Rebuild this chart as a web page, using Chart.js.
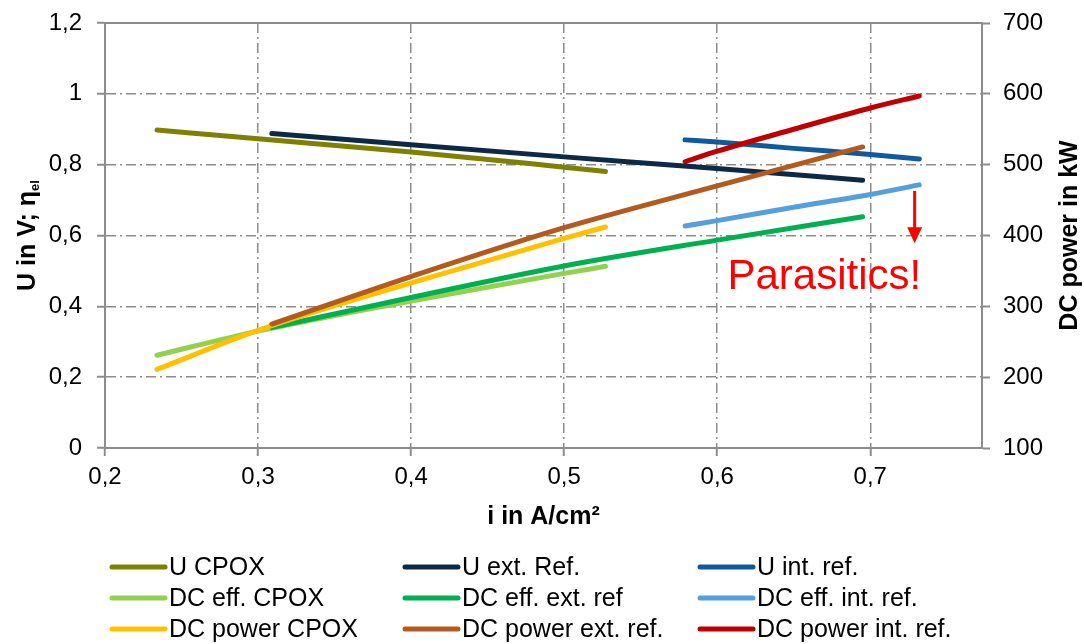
<!DOCTYPE html>
<html>
<head>
<meta charset="utf-8">
<script src="https://cdn.jsdelivr.net/npm/chart.js@4.4.1/dist/chart.umd.min.js"></script>
<style>
  html, body { margin: 0; padding: 0; background: #fff; }
</style>
</head>
<body>
<canvas id="myChart" width="1084" height="644"></canvas>
<script>
// current density (A/cm²) for each configuration
const iCpox = [0.234, 0.30, 0.40, 0.50, 0.527];
const iExt = [0.309, 0.40, 0.50, 0.60, 0.695];
const iInt = [0.579, 0.60, 0.65, 0.70, 0.732];

// cell voltage (V), left axis
const uCpox = [0.898, 0.873, 0.836, 0.793, 0.781];
const uExt = [0.888, 0.856, 0.822, 0.789, 0.756];
const uInt = [0.870, 0.864, 0.846, 0.829, 0.816];

// DC efficiency, left axis
const effCpox = [0.262, 0.330, 0.415, 0.493, 0.513];
const effExt = [0.340, 0.425, 0.514, 0.587, 0.653];
const effInt = [0.627, 0.642, 0.680, 0.716, 0.743];

// DC power (kW), right axis
const powerCpox = [211, 266, 333, 396, 412];
const powerExt = [275, 342, 411, 470, 525];
const powerInt = [504, 519, 550, 580, 597];

const xTicks = [0.2, 0.3, 0.4, 0.5, 0.6, 0.7];
const yTicks = [0, 0.2, 0.4, 0.6, 0.8, 1, 1.2];
const y1Ticks = [100, 200, 300, 400, 500, 600, 700];

// annotation
const arrowI = 0.729;
const arrowFrom = 0.726;
const arrowTo = 0.578;
const noteText = "Parasitics!";
const noteI = 0.670;
const noteY = 0.45;

const FONT = '"Liberation Sans", Arial, sans-serif';
const gridColor = "#8c8c8c";

function toPoints(xs, ys) {
  let pts = [];
  for (let i = 0; i < xs.length; i += 1) {
    pts.push({ x: xs[i], y: ys[i] });
  }
  return pts;
}

function makeSet(label, xs, ys, color, axis, order) {
  return {
    label: label,
    data: toPoints(xs, ys),
    borderColor: color,
    backgroundColor: color,
    borderWidth: 5,
    borderCapStyle: "round",
    pointRadius: 0,
    cubicInterpolationMode: "monotone",
    yAxisID: axis,
    order: order,
  };
}

const datasets = [
  makeSet("U CPOX", iCpox, uCpox, "#808000", "y", 8),
  makeSet("U ext. Ref.", iExt, uExt, "#0c2a47", "y", 7),
  makeSet("U int. ref.", iInt, uInt, "#0f5a9e", "y", 6),
  makeSet("DC eff. CPOX", iCpox, effCpox, "#92d050", "y", 5),
  makeSet("DC eff. ext. ref", iExt, effExt, "#00b050", "y", 4),
  makeSet("DC eff. int. ref.", iInt, effInt, "#559fdc", "y", 3),
  makeSet("DC power CPOX", iCpox, powerCpox, "#ffc000", "y1", 2),
  makeSet("DC power ext. ref.", iExt, powerExt, "#b35a1f", "y1", 1),
  makeSet("DC power int. ref.", iInt, powerInt, "#c00000", "y1", 0),
];

function commaNum(v) {
  return String(+Number(v).toFixed(1)).replace(".", ",");
}

const extras = {
  id: "extras",
  afterDraw(chart) {
    const ctx = chart.ctx;
    const a = chart.chartArea;
    const xs = chart.scales.x;
    const ys = chart.scales.y;
    ctx.save();

    // top frame line
    ctx.strokeStyle = gridColor;
    ctx.lineWidth = 2;
    ctx.beginPath();
    ctx.moveTo(a.left - 1, a.top);
    ctx.lineTo(a.right + 1, a.top);
    ctx.stroke();

    // left title with subscript
    ctx.fillStyle = "#000";
    ctx.save();
    ctx.translate(35, (a.top + a.bottom) / 2);
    ctx.rotate(-Math.PI / 2);
    ctx.font = "bold 25px " + FONT;
    const main = "U in V; η";
    const mw = ctx.measureText(main).width;
    ctx.font = "bold 13px " + FONT;
    const sw = ctx.measureText("el").width;
    const start = -(mw + sw) / 2;
    ctx.textAlign = "left";
    ctx.textBaseline = "alphabetic";
    ctx.font = "bold 25px " + FONT;
    ctx.fillText(main, start, 0);
    ctx.font = "bold 13px " + FONT;
    ctx.fillText("el", start + mw, 4);
    ctx.restore();

    // right title
    ctx.save();
    ctx.translate(1077, (a.top + a.bottom) / 2);
    ctx.rotate(-Math.PI / 2);
    ctx.font = "bold 25px " + FONT;
    ctx.textAlign = "center";
    ctx.textBaseline = "alphabetic";
    ctx.fillText("DC power in kW", 0, 0);
    ctx.restore();

    // arrow + note
    const ax = xs.getPixelForValue(arrowI);
    const ay1 = ys.getPixelForValue(arrowFrom);
    const ay2 = ys.getPixelForValue(arrowTo);
    ctx.strokeStyle = "#ff0000";
    ctx.fillStyle = "#ff0000";
    ctx.lineWidth = 3;
    ctx.beginPath();
    ctx.moveTo(ax, ay1);
    ctx.lineTo(ax, ay2 - 14);
    ctx.stroke();
    ctx.beginPath();
    ctx.moveTo(ax - 7.5, ay2 - 16);
    ctx.lineTo(ax + 7.5, ay2 - 16);
    ctx.lineTo(ax, ay2);
    ctx.closePath();
    ctx.fill();

    ctx.font = "42px " + FONT;
    ctx.textAlign = "center";
    ctx.textBaseline = "alphabetic";
    ctx.fillText(noteText, xs.getPixelForValue(noteI), ys.getPixelForValue(noteY));

    // legend, 3 columns
    const colX = [112, 405, 700];
    const rowY = [567, 598, 629];
    ctx.font = "25px " + FONT;
    ctx.textAlign = "left";
    ctx.textBaseline = "middle";
    chart.data.datasets.forEach(function (ds, i) {
      const x = colX[i % 3];
      const y = rowY[Math.floor(i / 3)];
      ctx.strokeStyle = ds.borderColor;
      ctx.lineWidth = 5;
      ctx.lineCap = "round";
      ctx.beginPath();
      ctx.moveTo(x, y);
      ctx.lineTo(x + 53, y);
      ctx.stroke();
      ctx.fillStyle = "#000";
      ctx.fillText(ds.label, x + 57, y + 1);
    });

    ctx.restore();
  },
};

const ctx = document.getElementById("myChart").getContext("2d");
const myChart = new Chart(ctx, {
  type: "line",
  data: { datasets: datasets },
  plugins: [extras],
  options: {
    responsive: false,
    animation: false,
    layout: { padding: { left: 0, right: 0, top: 23, bottom: 106 } },
    plugins: {
      legend: { display: false },
      tooltip: { enabled: false },
    },
    scales: {
      x: {
        type: "linear",
        min: 0.2,
        max: 0.773,
        afterBuildTicks: (s) => { s.ticks = xTicks.map((v) => ({ value: v })); },
        afterFit: (s) => { s.height = 90; },
        ticks: {
          includeBounds: false,
          padding: 7,
          color: "#000",
          font: { family: FONT, size: 24 },
          callback: (v) => commaNum(v),
        },
        grid: { color: gridColor, lineWidth: 1.5, tickLength: 8, tickColor: gridColor, tickWidth: 2 },
        border: { color: gridColor, width: 2, dash: [10, 4, 2, 4] },
        title: {
          display: true,
          text: "i in A/cm²",
          color: "#000",
          font: { family: FONT, size: 25, weight: "bold" },
          padding: { top: 0, bottom: 6 },
        },
      },
      y: {
        position: "left",
        min: 0,
        max: 1.2,
        afterBuildTicks: (s) => { s.ticks = yTicks.map((v) => ({ value: v })); },
        afterFit: (s) => { s.width = 105; s.paddingTop = 0; s.paddingBottom = 0; },
        ticks: {
          padding: 15,
          color: "#000",
          font: { family: FONT, size: 24 },
          callback: (v) => commaNum(v),
        },
        grid: { color: gridColor, lineWidth: 1.5, tickLength: 8, tickColor: gridColor, tickWidth: 2 },
        border: { color: gridColor, width: 2, dash: [10, 4, 2, 4] },
      },
      y1: {
        position: "right",
        min: 100,
        max: 700,
        afterBuildTicks: (s) => { s.ticks = y1Ticks.map((v) => ({ value: v })); },
        afterFit: (s) => { s.width = 102; s.paddingTop = 0; s.paddingBottom = 0; },
        ticks: {
          padding: 13,
          color: "#000",
          font: { family: FONT, size: 24 },
          callback: (v) => String(v),
        },
        grid: { drawOnChartArea: false, tickLength: 8, tickColor: gridColor, tickWidth: 2 },
        border: { color: gridColor, width: 2 },
      },
    },
  },
});
</script>
</body>
</html>
